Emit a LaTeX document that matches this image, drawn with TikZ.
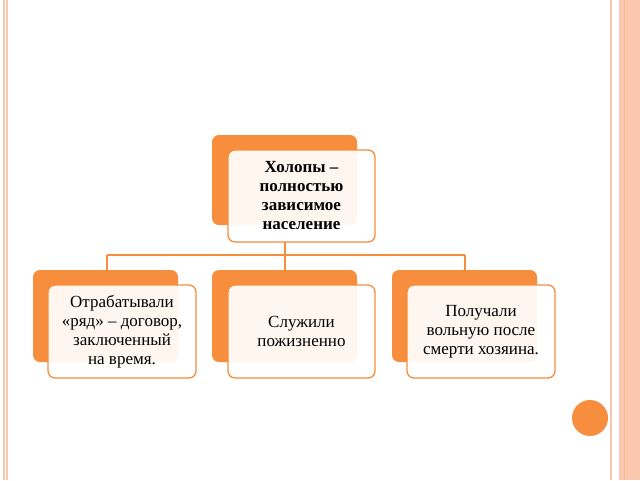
\documentclass[tikz,border=0pt]{standalone}
\usepackage{fontspec}
\setmainfont{Liberation Serif}
\begin{document}
\begin{tikzpicture}[x=1pt,y=-1pt,
  back/.style={draw=none, rounded corners=7pt},
  front/.style={fill=white, fill opacity=0.92, text opacity=1, line width=1.3pt, rounded corners=7pt, align=center, font=\fontsize{17}{19}\selectfont, inner sep=0pt},
  conn/.style={line width=1.3pt}]
\definecolor{orng}{RGB}{247,142,62}
\definecolor{pale}{RGB}{251,200,175}
\useasboundingbox (0,0) rectangle (640,480);
\fill[white] (0,0) rectangle (640,480);
% borders
\draw[pale, line width=1.2pt] (4,0) -- (4,480);
\draw[pale, line width=1.2pt] (7,0) -- (7,480);
\draw[pale, line width=1.2pt] (611,0) -- (611,480);
\fill[pale] (619,0) rectangle (640,480);
\draw[orng!60, line width=0.6pt] (624,0) -- (624,480);
% connectors
\coordinate (hl) at (107,255);
\coordinate (hr) at (465,255);
\coordinate (hm) at (285,255);
\path[back,fill=orng] (212,135) rectangle (357,225);
\path[back,fill=orng] (33,270) rectangle (178,362);
\path[back,fill=orng] (212,270) rectangle (357,362);
\path[back,fill=orng] (392,270) rectangle (537,362);
\draw[conn, draw=orng] (hl) -- (hr);
\draw[conn, draw=orng] (hl) -- (107,270);
\draw[conn, draw=orng] (hr) -- (465,270);
\node[front, draw=orng, minimum width=147pt, minimum height=92pt, font=\fontsize{17}{19}\selectfont\bfseries] (top) at (301.5,196) {Холопы –\\полностью\\зависимое\\население};
\draw[conn, draw=orng] (285,242) -- (hm) -- (285,270);
\node[front, draw=orng, minimum width=148pt, minimum height=93pt] (a) at (122,331.5) {Отрабатывали\\«ряд» – договор,\\заключенный\\на время.};
\node[front, draw=orng, minimum width=147pt, minimum height=93pt] (b) at (301.5,331.5) {Служили\\пожизненно};
\node[front, draw=orng, minimum width=148pt, minimum height=93pt] (c) at (481,331.5) {Получали\\вольную после\\смерти хозяина.};
\fill[orng] (590,418) circle (18);
\end{tikzpicture}
\end{document}
